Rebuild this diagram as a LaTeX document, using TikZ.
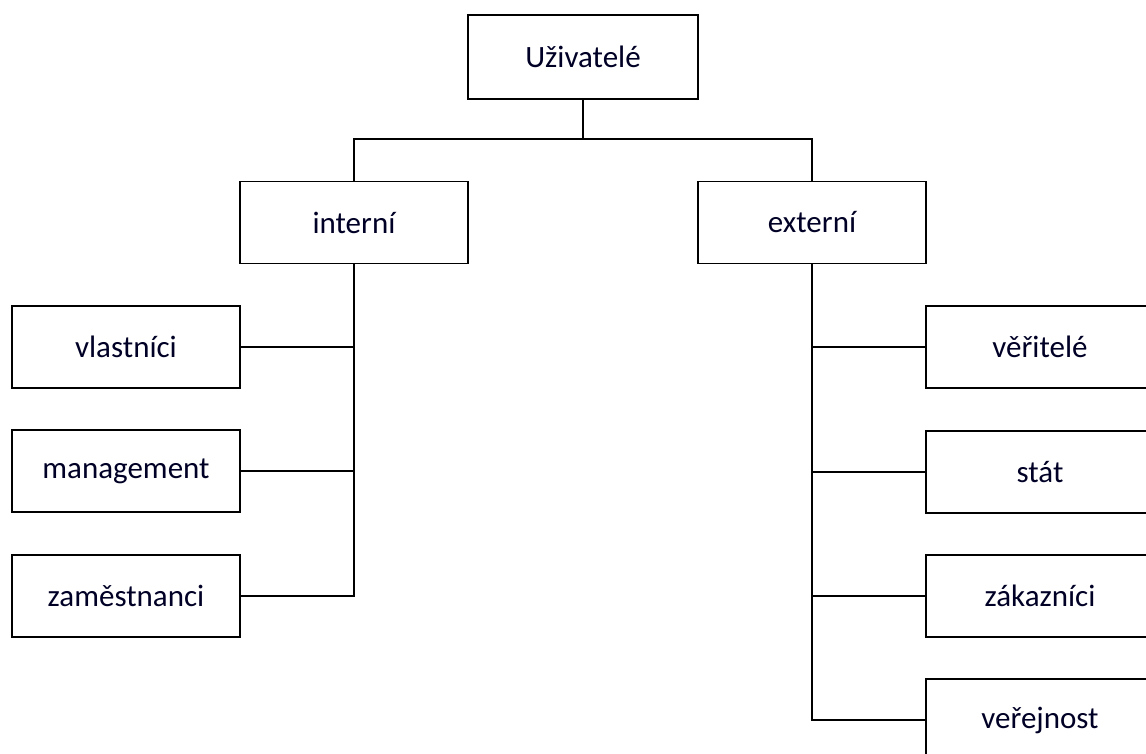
\documentclass[tikz,border=0pt]{standalone}
\usepackage{fontspec}
\setmainfont{Carlito}
\begin{document}
\begin{tikzpicture}[x=1pt,y=-1pt,
  box/.style={draw, line width=1.9pt, minimum width=228pt, minimum height=82pt, inner sep=0pt,
    font=\fontsize{31}{36}\selectfont, text=black!85!blue},
  conn/.style={line width=1.9pt}]
\useasboundingbox (0,0) rectangle (1146,754);
\clip (0,0) rectangle (1146,754);
\fill[white] (0,0) rectangle (1146,754);
\node[box, minimum width=230pt, minimum height=84pt] (U) at (583,57) {Uživatelé};
\node[box] (int) at (354,222.5) {interní};
\node[box] (ext) at (812,222.5) {externí};
\node[box] (vl) at (126,347) {vlastníci};
\node[box] (mg) at (126,471) {management};
\node[box] (za) at (126,596) {zaměstnanci};
\node[box] (ve) at (1040,347) {věřitelé};
\node[box] (st) at (1040,472) {stát};
\node[box] (zk) at (1040,596) {zákazníci};
\node[box] (vr) at (1040,720) {veřejnost};
\coordinate (J) at (583,139);
\draw[conn] (U.south) -- (J);
\draw[conn] (J) -| (int.north);
\draw[conn] (J) -| (ext.north);
\draw[conn] (int.south) |- (za.east);
\draw[conn] (vl.east) -- (vl.east -| int.south);
\draw[conn] (mg.east) -- (mg.east -| int.south);
\draw[conn] (ext.south) |- (vr.west);
\draw[conn] (ve.west) -- (ve.west -| ext.south);
\draw[conn] (st.west) -- (st.west -| ext.south);
\draw[conn] (zk.west) -- (zk.west -| ext.south);
\end{tikzpicture}
\end{document}
